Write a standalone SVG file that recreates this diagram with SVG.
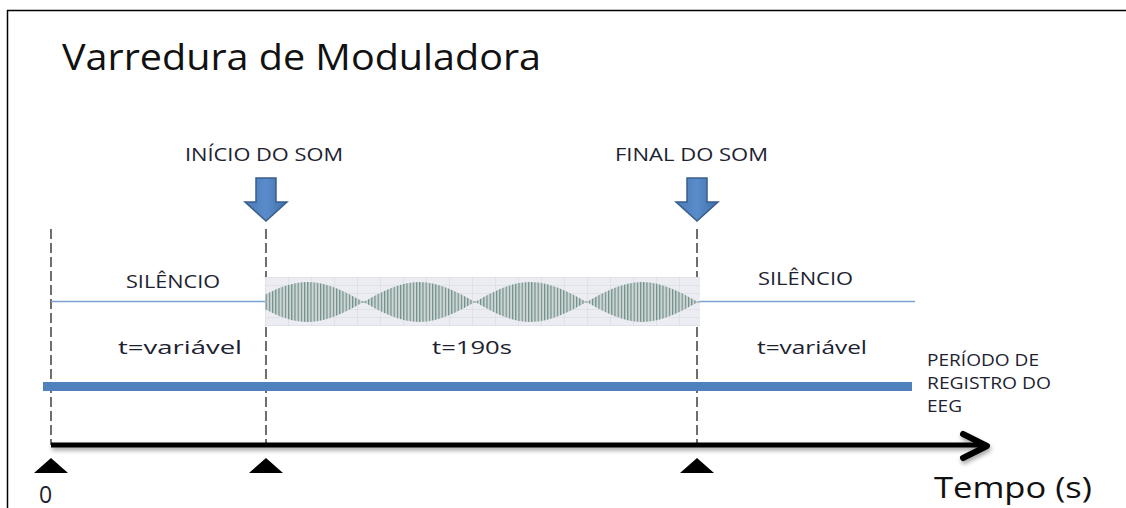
<svg xmlns="http://www.w3.org/2000/svg" width="1126" height="508" viewBox="0 0 1126 508">
<style>
.lbl{font-family:"Open Sans","Liberation Sans",sans-serif;fill:#1d2230;}
.dash{stroke:#222;stroke-width:1.3;stroke-dasharray:10 4;fill:none;}
.sil{stroke:#7aa3d4;stroke-width:1.5;fill:none;}
.tri{fill:#000;}
.darrow{fill:url(#ag);stroke:#385d8a;stroke-width:1.5;}
</style>
<defs>
<linearGradient id="ag" x1="0" y1="0" x2="1" y2="0">
<stop offset="0" stop-color="#4a7ab6"/><stop offset="0.5" stop-color="#5a8ccb"/><stop offset="1" stop-color="#3f6fa9"/>
</linearGradient>
<pattern id="grid" x="265" y="277" width="23" height="8" patternUnits="userSpaceOnUse">
<rect width="23" height="8" fill="#ececf3"/>
<path d="M0,0V8M0,0H23" stroke="#d6d6df" stroke-width="1" fill="none"/>
</pattern>
<pattern id="carrier" x="0" y="0" width="3.2" height="10" patternUnits="userSpaceOnUse">
<rect width="3.2" height="10" fill="#cdd8d6"/>
<rect x="0" width="1.2" height="10" fill="#718c88"/>
</pattern>
<clipPath id="boxclip"><rect x="265" y="277" width="435" height="49"/></clipPath>
<filter id="shadow" x="-5%" y="-100%" width="110%" height="300%">
<feDropShadow dx="1" dy="3" stdDeviation="2" flood-color="#000" flood-opacity="0.35"/>
</filter>
</defs>
<rect width="1126" height="508" fill="#fff"/>
<g id="frame" stroke="#000" stroke-width="1.5" fill="none">
<path d="M7,10.5H1126M7.5,10V508"/>
</g>
<g id="title"><text class="lbl" x="62" y="70" font-size="36" textLength="479" lengthAdjust="spacingAndGlyphs" style="fill:#111">Varredura de Moduladora</text></g>
<g id="connectors">
<path class="dash" d="M51,229V445M266,229V445M697,229V445"/>
<path class="sil" d="M51,301.5H265M698,301.5H915"/>
</g>
<g id="sound-wave">
<rect x="265" y="277" width="435" height="49" fill="url(#grid)"/>
<g clip-path="url(#boxclip)">
<path d="M265,302H700" stroke="#7d9692" stroke-width="1.2"/>
<path fill="url(#carrier)" d="M252,302 C270.18,291.75 287.57,282 307.75,282 C327.93,282 345.32,291.75 363.5,302 C345.32,312.25 327.930,322 307.75,322 C287.57,322 270.18,312.25 252,302Z M363.5,302 C381.68,291.75 399.07,282 419.25,282 C439.43,282 456.82,291.75 475,302 C456.82,312.25 439.43,322 419.25,322 C399.07,322 381.68,312.25 363.5,302Z M475,302 C493.18,291.75 510.57,282 530.75,282 C550.93,282 568.32,291.75 586.5,302 C568.32,312.25 550.93,322 530.75,322 C510.57,322 493.18,312.25 475,302Z M586.5,302 C604.68,291.75 622.07,282 642.25,282 C662.43,282 679.82,291.75 698,302 C679.82,312.25 662.43,322 642.25,322 C622.07,322 604.68,312.25 586.5,302Z"/>
</g>
</g>
<g id="inicio">
<text class="lbl" x="185" y="161" font-size="19" textLength="158" lengthAdjust="spacingAndGlyphs">INÍCIO DO SOM</text>
<polygon class="darrow" points="256,178 276,178 276,202 287,202 266,221 245,202 256,202"/>
</g>
<g id="final">
<text class="lbl" x="615" y="161" font-size="19" textLength="153" lengthAdjust="spacingAndGlyphs">FINAL DO SOM</text>
<polygon class="darrow" points="687,178 707,178 707,202 718,202 697,221 676,202 687,202"/>
</g>
<g id="silencio-left"><text class="lbl" x="126" y="288" font-size="18" textLength="94" lengthAdjust="spacingAndGlyphs">SILÊNCIO</text></g>
<g id="silencio-right"><text class="lbl" x="758" y="285" font-size="18" textLength="95" lengthAdjust="spacingAndGlyphs">SILÊNCIO</text></g>
<g id="t-left"><text class="lbl" x="118" y="354" font-size="19" textLength="124" lengthAdjust="spacingAndGlyphs">t=variável</text></g>
<g id="t-mid"><text class="lbl" x="432" y="354" font-size="19" textLength="80" lengthAdjust="spacingAndGlyphs">t=190s</text></g>
<g id="t-right"><text class="lbl" x="757" y="354" font-size="19" textLength="110" lengthAdjust="spacingAndGlyphs">t=variável</text></g>
<g id="eeg">
<rect x="43" y="382" width="869" height="9" fill="#4f81bd"/>
<text class="lbl" font-size="15.5">
<tspan x="927" y="366" textLength="112" lengthAdjust="spacingAndGlyphs">PERÍODO DE</tspan>
<tspan x="927" y="389" textLength="124" lengthAdjust="spacingAndGlyphs">REGISTRO DO</tspan>
<tspan x="927" y="412" textLength="35" lengthAdjust="spacingAndGlyphs">EEG</tspan>
</text>
</g>
<g id="time-axis" filter="url(#shadow)" stroke="#000" fill="none">
<path d="M51,445H985" stroke-width="5"/>
<polyline points="963,434 987,446 963,458" stroke-width="6" stroke-linecap="round" stroke-linejoin="round"/>
</g>
<g id="ticks">
<polygon class="tri" points="51,458 68,473 34,473"/>
<polygon class="tri" points="266,458 283,473 249,473"/>
<polygon class="tri" points="697,458 714,473 680,473"/>
</g>
<g id="zero"><text class="lbl" x="39" y="503" font-size="23">0</text></g>
<g id="tempo"><text class="lbl" x="934" y="498" font-size="30" textLength="158" lengthAdjust="spacingAndGlyphs" style="fill:#111">Tempo (s)</text></g>
</svg>
